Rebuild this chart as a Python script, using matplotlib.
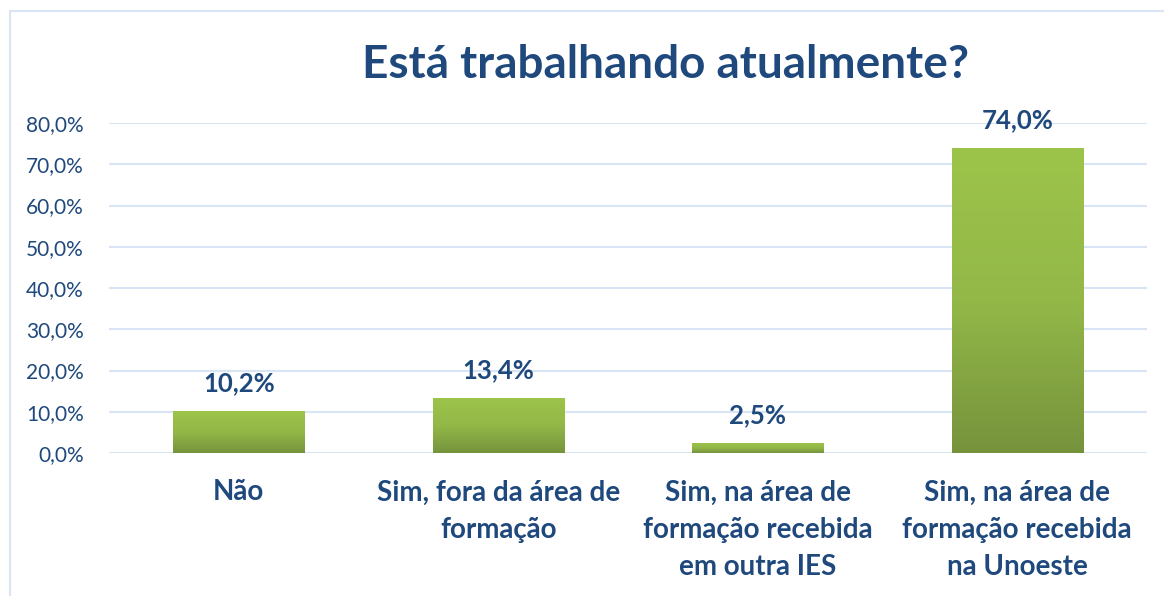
import matplotlib.pyplot as plt
import matplotlib.patches as mpatches
import numpy as np
from matplotlib.colors import LinearSegmentedColormap

# dados
categorias = ['Não', 'Sim, fora da área de\nformação',
              'Sim, na área de\nformação recebida\nem outra IES',
              'Sim, na área de\nformação recebida\nna Unoeste']
valores = [10.2, 13.4, 2.5, 74.0]
ticks_y = [0, 10, 20, 30, 40, 50, 60, 70, 80]
titulo = 'Está trabalhando atualmente?'

azul = '#1F497D'
grade = '#D9E4F4'

plt.rcParams['font.family'] = ['Lato', 'DejaVu Sans']

fig = plt.figure(figsize=(11.64, 5.96), dpi=100)
ax = fig.add_axes([109/1164, 1-453/596, (1147-109)/1164, (453-123)/596])

# borda do gráfico
fig.patches.append(mpatches.Rectangle((10/1164, -0.1), 2, (596-11)/596 + 0.1,
                                      transform=fig.transFigure, fill=False,
                                      edgecolor=grade, linewidth=1.5))

x = np.arange(len(valores))
barras = ax.bar(x, valores, width=0.505, color='none', edgecolor='none', zorder=3)

# degradê verde nas barras
cmap = LinearSegmentedColormap.from_list('verde', ['#76933C', '#93B848', '#9DC44A'])
grad = np.linspace(0, 1, 256).reshape(-1, 1)
for b in barras:
    x0, w, h = b.get_x(), b.get_width(), b.get_height()
    im = ax.imshow(grad, cmap=cmap, aspect='auto', origin='lower',
                   extent=(x0, x0 + w, 0, h), zorder=3)
    im.set_clip_path(b)

for xi, v in zip(x, valores):
    ax.annotate(f'{v:.1f}%'.replace('.', ','), (xi, v), xytext=(0, 20),
                textcoords='offset points', ha='center', va='center',
                fontsize=18.5, fontweight='bold', color=azul, annotation_clip=False)

ax.set_xlim(-0.5, len(valores) - 0.5)
ax.set_ylim(0, 80)
ax.set_yticks(ticks_y)
ax.set_yticklabels([f'{t:.1f}%'.replace('.', ',') for t in ticks_y],
                   fontsize=15, color=azul)
ax.set_xticks(x)
ax.set_xticklabels(categorias, fontsize=20, fontweight='bold', color=azul,
                   linespacing=1.53, va='top')
ax.tick_params(axis='x', length=0, pad=19)
ax.tick_params(axis='y', length=0, pad=18)
ax.yaxis.grid(True, color=grade, linewidth=1.5, zorder=0)
for s in ax.spines.values():
    s.set_visible(False)

fig.text(665/1164, 1-65/596, titulo, ha='center', va='center',
         fontsize=33, fontweight='bold', color=azul)

plt.savefig('out.png', dpi=100)
